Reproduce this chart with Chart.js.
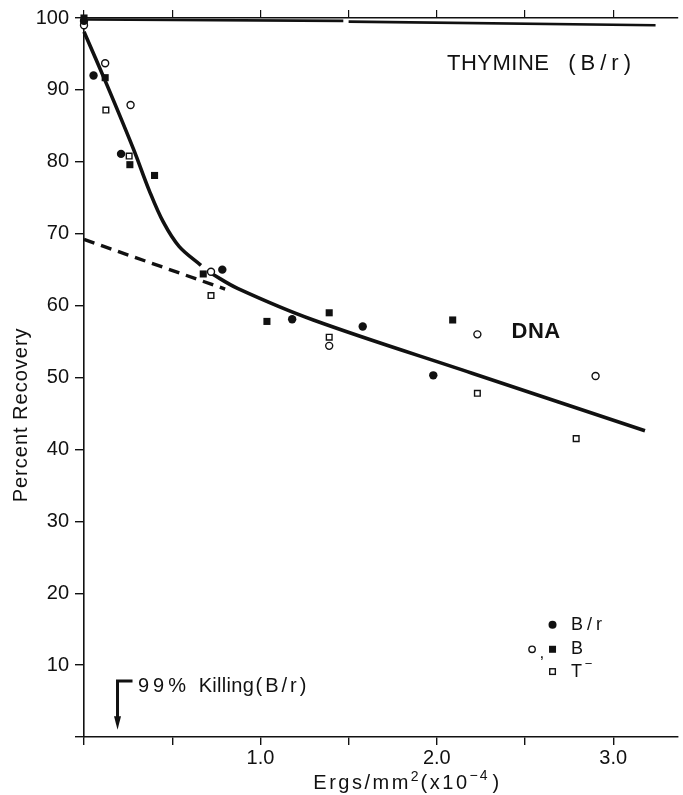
<!DOCTYPE html>
<html>
<head>
<meta charset="utf-8">
<script src="https://cdn.jsdelivr.net/npm/chart.js@4/dist/chart.umd.min.js"></script>
<style>
  body { margin: 0; background: #fff; }
  canvas { display: block; }
</style>
</head>
<body>
<canvas id="c" width="683" height="795"></canvas>
<script>
// dose in ergs/mm2 (x10^-4), recovery in percent
const brX = [0, 0.054, 0.21, 0.784, 1.18, 1.58, 1.98];
const brY = [99.6, 92.0, 81.1, 65.0, 58.1, 57.1, 50.3];
const bOpenX = [0, 0.12, 0.264, 0.72, 1.39, 2.23, 2.90];
const bOpenY = [99.0, 93.7, 87.9, 64.7, 54.4, 56.0, 50.2];
const bFillX = [0, 0.12, 0.26, 0.40, 0.676, 1.037, 1.39, 2.09];
const bFillY = [100, 91.7, 79.6, 78.1, 64.4, 57.8, 59.0, 58.0];
const tX = [0, 0.124, 0.256, 0.72, 1.39, 2.23, 2.79];
const tY = [99.4, 87.2, 80.8, 61.4, 55.6, 47.8, 41.5];

// fitted curves (null = break in the drawn line)
const dnaX = [0, 0.13, 0.28, 0.37, 0.45, 0.54, 0.663, 0.69, 0.72, 0.87, 1.3, 2.2, 3.18];
const dnaY = [98.1, 90.7, 81.8, 76.0, 71.6, 68.2, 65.6, null, 64.5, 62.4, 58.0, 50.6, 42.6];
const extrapX = [0, 0.8];
const extrapY = [69.2, 62.3];
const thymX = [0.02, 1.47, 1.485, 1.5, 3.24];
const thymY = [99.8, 99.6, null, 99.5, 99.0];

const xTicks = [1, 2, 3];
const yTicks = [10, 20, 30, 40, 50, 60, 70, 80, 90, 100];

const pts = (xs, ys) => xs.map((x, i) => ({ x, y: ys[i] }));
const INK = '#111';
const FONT = '"Liberation Sans", Arial, sans-serif';

function txt(ctx, s, px, py, size, ls, align, weight) {
  ctx.save();
  ctx.font = (weight || 'normal') + ' ' + size + 'px ' + FONT;
  ctx.letterSpacing = (ls || 0) + 'px';
  ctx.textAlign = align || 'left';
  ctx.textBaseline = 'middle';
  ctx.fillStyle = INK;
  ctx.fillText(s, px, py);
  const w = ctx.measureText(s).width;
  ctx.restore();
  return w;
}

const notes = {
  id: 'notes',
  afterDraw(chart) {
    const { ctx, chartArea } = chart;
    const x = chart.scales.x, y = chart.scales.y;
    const X = v => x.getPixelForValue(v), Y = v => y.getPixelForValue(v);

    // labels inside the plot
    txt(ctx, 'THYMINE', X(2.058), Y(93.6), 22, 0.5);
    txt(ctx, '(B/r)', X(2.745), Y(93.6), 22, 5);
    txt(ctx, 'DNA', X(2.563), Y(56.4), 22, 0.5, 'center', 'bold');

    // 99% killing marker
    ctx.save();
    ctx.strokeStyle = INK; ctx.fillStyle = INK; ctx.lineWidth = 3;
    ctx.beginPath();
    ctx.moveTo(X(0.275), Y(7.8));
    ctx.lineTo(X(0.19), Y(7.8));
    ctx.lineTo(X(0.19), Y(2.6));
    ctx.stroke();
    ctx.beginPath();
    ctx.moveTo(X(0.19) - 3.5, Y(2.9));
    ctx.lineTo(X(0.19) + 3.5, Y(2.9));
    ctx.lineTo(X(0.19), Y(1.0));
    ctx.closePath(); ctx.fill();
    ctx.restore();
    txt(ctx, '99%', X(0.306), Y(7.0), 20, 4);
    txt(ctx, 'Killing', X(0.65), Y(7.0), 20, 0.3);
    txt(ctx, '(B/r)', X(0.972), Y(7.0), 20, 3);

    // key
    ctx.save();
    ctx.fillStyle = INK; ctx.strokeStyle = INK; ctx.lineWidth = 1.4;
    ctx.beginPath(); ctx.arc(X(2.656), Y(15.6), 4, 0, Math.PI * 2); ctx.fill();
    ctx.beginPath(); ctx.arc(X(2.54), Y(12.2), 3.2, 0, Math.PI * 2); ctx.stroke();
    ctx.fillRect(X(2.656) - 3.5, Y(12.2) - 3.5, 7, 7);
    ctx.strokeRect(X(2.656) - 2.8, Y(9.1) - 2.8, 5.6, 5.6);
    ctx.restore();
    txt(ctx, ',', X(2.582), Y(11.7), 17, 0);
    txt(ctx, 'B/r', X(2.76), Y(15.6), 18, 4);
    txt(ctx, 'B', X(2.76), Y(12.2), 18, 0);
    const tw = txt(ctx, 'T', X(2.76), Y(9.1), 18, 0);
    txt(ctx, '\u2212', X(2.76) + tw + 3, Y(9.1) - 7, 13, 0);

    // axis titles
    ctx.save();
    ctx.translate(21.5, Y(44.8));
    ctx.rotate(-Math.PI / 2);
    txt(ctx, 'Percent Recovery', 0, 0, 20, 1, 'center');
    ctx.restore();

    const by = chartArea.bottom + 46;
    let px = X(1.30);
    px += txt(ctx, 'Ergs/mm', px, by, 20, 2.5);
    px += txt(ctx, '2', px, by - 6, 14, 1);
    px += txt(ctx, '(x10', px + 1, by, 20, 2.5) + 1;
    px += txt(ctx, '\u22124', px, by - 7, 14, 2);
    txt(ctx, ')', px + 3, by, 20, 0);
  }
};

const tickFont = { family: FONT, size: 20 };

new Chart(document.getElementById('c'), {
  type: 'scatter',
  data: {
    datasets: [
      { label: 'B/r', data: pts(brX, brY), pointStyle: 'circle', pointRadius: 4.2,
        backgroundColor: INK, borderColor: INK, borderWidth: 0, clip: false },
      { label: 'B (open)', data: pts(bOpenX, bOpenY), pointStyle: 'circle', pointRadius: 3.5,
        backgroundColor: '#fff', borderColor: INK, borderWidth: 1.4, clip: false },
      { label: 'B (filled)', data: pts(bFillX, bFillY), pointStyle: 'rect', pointRadius: 5,
        backgroundColor: INK, borderColor: INK, borderWidth: 0, clip: false },
      { label: 'T-', data: pts(tX, tY), pointStyle: 'rect', pointRadius: 4,
        backgroundColor: '#fff', borderColor: INK, borderWidth: 1.4, clip: false },
      { type: 'line', label: 'DNA', data: pts(dnaX, dnaY), borderColor: INK, borderWidth: 3.6,
        pointRadius: 0, tension: 0.35, spanGaps: false, clip: false },
      { type: 'line', label: 'extrapolation', data: pts(extrapX, extrapY), borderColor: INK,
        borderWidth: 3.4, borderDash: [11, 7], pointRadius: 0, clip: false },
      { type: 'line', label: 'Thymine', data: pts(thymX, thymY), borderColor: INK, borderWidth: 2.6,
        pointRadius: 0, spanGaps: false, clip: false }
    ]
  },
  options: {
    responsive: false,
    animation: false,
    events: [],
    layout: { padding: 0 },
    plugins: { legend: { display: false }, tooltip: { enabled: false } },
    scales: {
      x: {
        type: 'linear', position: 'bottom', min: 0, max: 3.365,
        afterFit: s => { s.height = 58; },
        border: { color: INK, width: 1.6 },
        grid: { drawOnChartArea: false, drawTicks: true, tickLength: 8, color: INK, lineWidth: 1.4 },
        ticks: {
          stepSize: 0.5, includeBounds: false, autoSkip: false, maxRotation: 0, padding: 1,
          color: INK, font: tickFont,
          callback: v => xTicks.includes(v) ? v.toFixed(1) : ''
        }
      },
      x2: {
        type: 'linear', position: 'top', min: 0, max: 3.365,
        afterFit: s => { s.height = 17; },
        border: { color: INK, width: 1.4 },
        grid: { drawOnChartArea: false, drawTicks: true, tickLength: 8, color: INK, lineWidth: 1.2 },
        ticks: { stepSize: 0.5, includeBounds: false, autoSkip: false, display: false }
      },
      y: {
        type: 'linear', position: 'left', min: 0, max: 100,
        afterFit: s => { s.width = 84; },
        border: { color: INK, width: 1.6 },
        grid: { drawOnChartArea: false, drawTicks: true, tickLength: 9, color: INK, lineWidth: 1.4 },
        ticks: {
          stepSize: 10, padding: 6, color: INK, font: tickFont,
          callback: v => yTicks.includes(v) ? String(v) : ''
        }
      }
    }
  },
  plugins: [notes]
});
</script>
</body>
</html>
